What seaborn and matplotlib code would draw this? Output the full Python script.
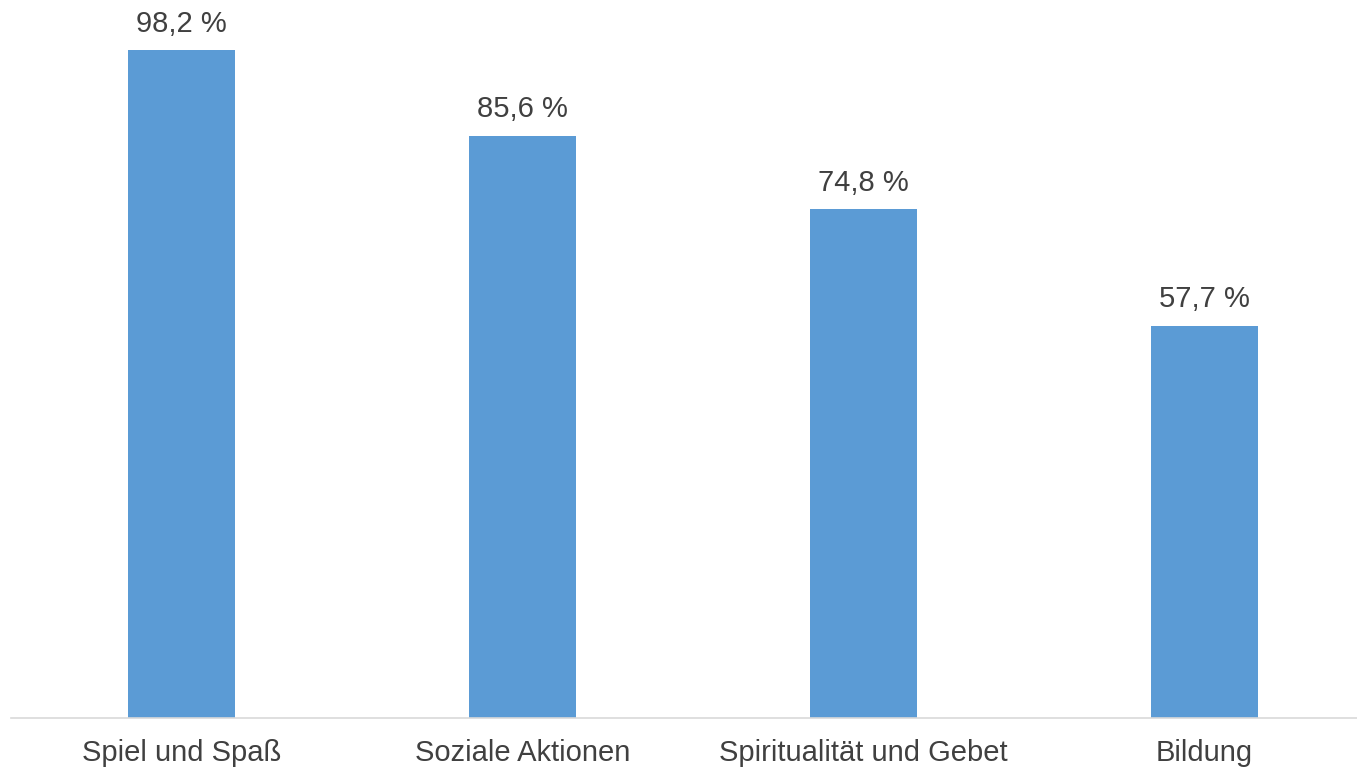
import matplotlib
matplotlib.use('Agg')
import matplotlib.pyplot as plt
import pandas as pd
import seaborn as sns

# data
categories = ['Spiel und Spaß', 'Soziale Aktionen', 'Spiritualität und Gebet', 'Bildung']
values = [98.2, 85.6, 74.8, 57.7]
value_labels = ['98,2 %', '85,6 %', '74,8 %', '57,7 %']

df = pd.DataFrame({'category': categories, 'value': values})

sns.set_style('white')
plt.rcParams['font.family'] = ['Liberation Sans', 'DejaVu Sans']

fig = plt.figure(figsize=(13.57, 7.68), dpi=100)
ax = fig.add_axes([11 / 1357, 50 / 768, 1346 / 1357, 718 / 768])

sns.barplot(data=df, x='category', y='value', color='#5B9BD5', width=0.314,
            saturation=1, linewidth=0, ax=ax)

# value labels above the bars
for i, (v, lab) in enumerate(zip(values, value_labels)):
    ax.annotate(lab, (i, v), textcoords='offset points', xytext=(0, 9),
                ha='center', va='bottom', fontsize=21, color='#404040')

ax.set_xlim(-0.5, 3.447)
ax.set_ylim(0, 105.6)
ax.set_xlabel('')
ax.set_ylabel('')
ax.set_yticks([])
ax.tick_params(axis='x', length=0, labelsize=21, labelcolor='#404040', pad=15)
for side in ['top', 'right', 'left']:
    ax.spines[side].set_visible(False)
ax.spines['bottom'].set_color('#D9D9D9')
ax.spines['bottom'].set_linewidth(1.2)

fig.savefig('out.png', dpi=100)
